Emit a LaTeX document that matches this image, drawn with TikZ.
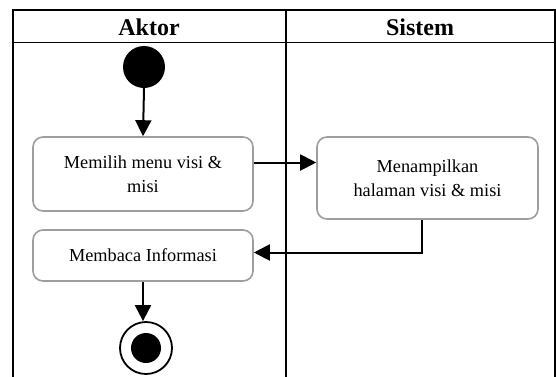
\documentclass[tikz,border=0pt]{standalone}
\usepackage{fontspec}
\setmainfont{Liberation Serif}
\usetikzlibrary{arrows.meta}
\begin{document}
\begin{tikzpicture}[x=1pt,y=-1pt,
  lane/.style={line width=1.8pt},
  lanetitle/.style={font=\fontsize{24}{28}\selectfont\bfseries},
  activity/.style={draw=black!38, line width=1.6pt, rounded corners=10pt,
    align=center, inner sep=4pt, font=\fontsize{18.3}{23.5}\selectfont},
  flow/.style={line width=2pt, -{Triangle[length=16pt,width=16pt]}},
  startnode/.style={circle, fill=black, minimum size=42pt, inner sep=0pt},
  endring/.style={circle, draw=black, line width=1.8pt, minimum size=52pt, inner sep=0pt},
  enddot/.style={circle, fill=black, minimum size=30pt, inner sep=0pt}]
\useasboundingbox (0,0) rectangle (556,376);
\fill[white] (0,0) rectangle (556,376);

% swimlane frame
\draw[lane] (12.7,380) -- (12.7,10) -- (555,10) -- (555,380);
\draw[lane] (12.7,42.5) -- (555,42.5);
\draw[lane] (286,10) -- (286,380);
\node[lanetitle] (hAktor) at (149,27) {Aktor};
\node[lanetitle] (hSistem) at (420,27) {Sistem};

% activities
\node[startnode] (start) at (144,67) {};
\node[activity, minimum width=220pt, minimum height=74pt] (pilih) at (143,174)
  {Memilih menu visi \&\\misi};
\node[activity, minimum width=221pt, minimum height=82pt] (tampil) at (427.5,178)
  {Menampilkan\\halaman visi \& misi};
\node[activity, minimum width=220pt, minimum height=51pt] (baca) at (143,255.5)
  {Membaca Informasi};
\node[endring] (stop) at (146,348) {};
\node[enddot] (stopdot) at (stop.center) {};

% control flow (yshift is measured upwards on the page)
\draw[flow] (start.south) -- (pilih.north);
\draw[flow] ([yshift=11.5pt]pilih.east) -- ([yshift=15.5pt]tampil.west);
\draw[flow] ([xshift=-6pt]tampil.south) |- ([yshift=3pt]baca.east);
\draw[flow] (baca.south) -- (baca.south |- stop.north);
\end{tikzpicture}
\end{document}
